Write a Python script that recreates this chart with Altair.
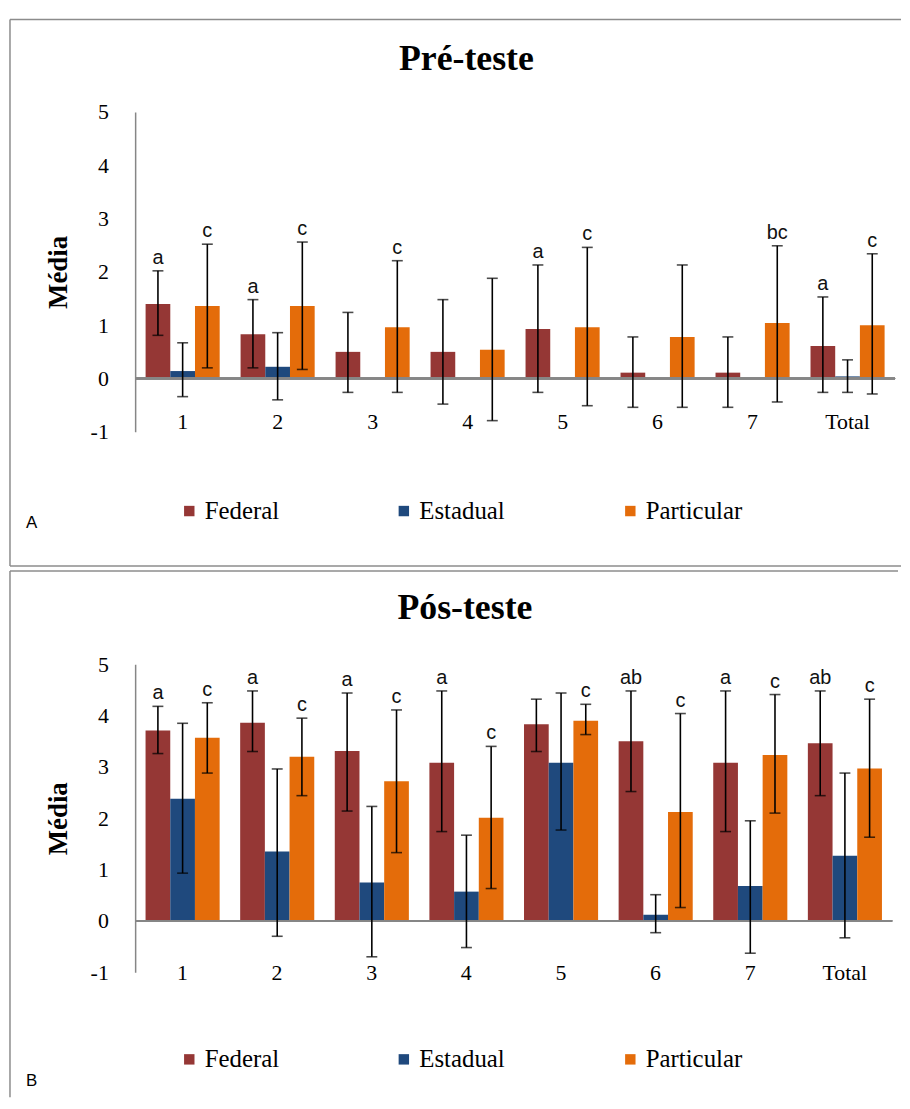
import altair as alt
import pandas as pd

SERIF = "Liberation Serif"
SANS = "Liberation Sans"

categories = ["1", "2", "3", "4", "5", "6", "7", "Total"]
series = ["Federal", "Estadual", "Particular"]
colors = ["#953735", "#1F497D", "#E46C0A"]

# ---- Pré-teste ----
pre_federal = [1.40, 0.83, 0.50, 0.50, 0.93, 0.11, 0.11, 0.61]
pre_federal_lo = [0.81, 0.20, -0.26, -0.48, -0.26, -0.54, -0.54, -0.26]
pre_federal_hi = [2.02, 1.48, 1.24, 1.48, 2.13, 0.78, 0.78, 1.53]
pre_federal_letters = ["a", "a", "", "", "a", "", "", "a"]

pre_estadual = [0.14, 0.22, None, None, None, None, None, 0.04]
pre_estadual_lo = [-0.34, -0.40, None, None, None, None, None, -0.26]
pre_estadual_hi = [0.67, 0.86, None, None, None, None, None, 0.35]
pre_estadual_letters = ["", "", "", "", "", "", "", ""]

pre_particular = [1.36, 1.36, 0.96, 0.54, 0.96, 0.78, 1.04, 1.00]
pre_particular_lo = [0.20, 0.17, -0.26, -0.79, -0.51, -0.54, -0.44, -0.29]
pre_particular_hi = [2.52, 2.56, 2.21, 1.88, 2.46, 2.13, 2.49, 2.34]
pre_particular_letters = ["c", "c", "c", "", "c", "", "bc", "c"]

# ---- Pós-teste ----
post_federal = [3.71, 3.86, 3.31, 3.08, 3.83, 3.50, 3.08, 3.46]
post_federal_lo = [3.26, 3.30, 2.14, 1.74, 3.30, 2.52, 1.74, 2.44]
post_federal_hi = [4.18, 4.48, 4.44, 4.48, 4.32, 4.48, 4.48, 4.48]
post_federal_letters = ["a", "a", "a", "a", "", "ab", "a", "ab"]

post_estadual = [2.38, 1.35, 0.75, 0.57, 3.08, 0.12, 0.68, 1.27]
post_estadual_lo = [0.93, -0.30, -0.70, -0.52, 1.77, -0.23, -0.63, -0.33]
post_estadual_hi = [3.85, 2.96, 2.23, 1.67, 4.44, 0.51, 1.95, 2.88]
post_estadual_letters = ["", "", "", "", "", "", "", ""]

post_particular = [3.57, 3.20, 2.72, 2.01, 3.90, 2.12, 3.23, 2.97]
post_particular_lo = [2.88, 2.44, 1.33, 0.63, 3.63, 0.26, 2.10, 1.63]
post_particular_hi = [4.25, 3.95, 4.11, 3.40, 4.22, 4.04, 4.41, 4.32]
post_particular_letters = ["c", "c", "c", "c", "c", "c", "c", "c"]


def build_df(vals, los, his, letters):
    rows = []
    for s, v, lo, hi, lt in zip(series, vals, los, his, letters):
        for i, c in enumerate(categories):
            if v[i] is None:
                continue
            rows.append(dict(cat=c, serie=s, val=v[i], lo=lo[i], hi=hi[i], letter=lt[i]))
    return pd.DataFrame(rows)


pre_df = build_df(
    [pre_federal, pre_estadual, pre_particular],
    [pre_federal_lo, pre_estadual_lo, pre_particular_lo],
    [pre_federal_hi, pre_estadual_hi, pre_particular_hi],
    [pre_federal_letters, pre_estadual_letters, pre_particular_letters],
)
post_df = build_df(
    [post_federal, post_estadual, post_particular],
    [post_federal_lo, post_estadual_lo, post_particular_lo],
    [post_federal_hi, post_estadual_hi, post_particular_hi],
    [post_federal_letters, post_estadual_letters, post_particular_letters],
)

one = pd.DataFrame({"k": [0]})


def panel(df, title, tag, width, height, xlab_offset, legend_y, title_y, tag_y,
          frame_top, frame_bottom, draw_bottom):
    xaxis = alt.Axis(title=None, labelAngle=0, domain=False, ticks=False,
                     offset=xlab_offset, labelPadding=0, labelFont=SERIF,
                     labelFontSize=22, labelColor="black")
    xs = alt.Scale(paddingInner=0.22, paddingOuter=0.11)
    x = alt.X("cat:N", sort=categories, scale=xs, axis=xaxis)
    xo = alt.XOffset("serie:N", sort=series,
                     scale=alt.Scale(domain=series, paddingInner=0, paddingOuter=0))
    ys = alt.Scale(domain=[-1, 5], nice=False, zero=False)
    yaxis = alt.Axis(title="Média", values=[-1, 0, 1, 2, 3, 4, 5], grid=False,
                     labelExpr="toString(datum.value)",
                     ticks=False, domainColor="#868686", domainWidth=1.5,
                     labelPadding=27, labelFont=SERIF, labelFontSize=22,
                     labelColor="black", titleFont=SERIF, titleFontSize=27,
                     titleFontWeight="bold", titleColor="black", titlePadding=18)

    def Y(field):
        return alt.Y(field, type="quantitative", scale=ys, axis=yaxis)

    color = alt.Color("serie:N", sort=series,
                      scale=alt.Scale(domain=series, range=colors),
                      legend=alt.Legend(title=None, orient="none", legendX=42,
                                        legendY=legend_y, direction="horizontal",
                                        symbolType="square", symbolSize=110,
                                        symbolStrokeWidth=0, labelFont=SERIF,
                                        labelFontSize=25, labelColor="black",
                                        labelOffset=3, columnPadding=113))
    base = alt.Chart(df)
    bars = base.mark_bar().encode(x=x, xOffset=xo, y=Y("val"), color=color)
    zero = base.mark_rule(color="#868686", strokeWidth=1.5).encode(y=alt.datum(0))
    err = base.mark_rule(color="black", strokeWidth=1.6).encode(
        x=x, xOffset=xo, y=Y("lo"), y2="hi:Q")
    cap_hi = base.mark_tick(orient="horizontal", size=11, thickness=1.6,
                            color="black").encode(x=x, xOffset=xo, y=Y("hi"))
    cap_lo = base.mark_tick(orient="horizontal", size=11, thickness=1.6,
                            color="black").encode(x=x, xOffset=xo, y=Y("lo"))
    letters = base.mark_text(font=SANS, fontSize=20, baseline="alphabetic", dy=-7,
                             color="#111111").encode(
        x=x, xOffset=xo, y=Y("hi"), text="letter:N")

    fb = alt.Chart(one)
    ttl = fb.mark_text(text=title, font=SERIF, fontSize=36, fontWeight="bold",
                       color="black", baseline="middle").encode(
        x=alt.value(width / 2 - 49), y=alt.value(title_y))
    tg = fb.mark_text(text=tag, font=SANS, fontSize=17, color="black",
                      align="left", baseline="middle").encode(
        x=alt.value(-110), y=alt.value(tag_y))
    fl = -126
    fr = width + 6
    left_line = fb.mark_rule(color="#8c8c8c", strokeWidth=1.5).encode(
        x=alt.value(fl), y=alt.value(frame_top), y2=alt.value(frame_bottom))
    top_line = fb.mark_rule(color="#8c8c8c", strokeWidth=1.5).encode(
        x=alt.value(fl), x2=alt.value(fr), y=alt.value(frame_top))
    layers = [left_line, top_line]
    if draw_bottom:
        layers.append(fb.mark_rule(color="#8c8c8c", strokeWidth=1.5).encode(
            x=alt.value(fl), x2=alt.value(fr), y=alt.value(frame_bottom)))
    layers += [bars, zero, err, cap_hi, cap_lo, letters, ttl, tg]
    return alt.layer(*layers).properties(width=width, height=height)


top = panel(pre_df, "Pré-teste", "A", 765, 322, -20, 389, -53, 414, -93, 457, True)
bottom = panel(post_df, "Pós-teste", "B", 762, 310, -10, 385, -57, 420, -94, 436, False)

chart = (
    alt.vconcat(top, bottom, spacing=3)
    .resolve_scale(color="independent", x="independent", y="independent")
    .resolve_legend(color="independent")
    .properties(padding={"left": 1, "top": 7, "right": 0, "bottom": 0})
    .configure_view(stroke=None)
)

chart.save("out.html", embed_options={"renderer": "svg", "actions": False})
